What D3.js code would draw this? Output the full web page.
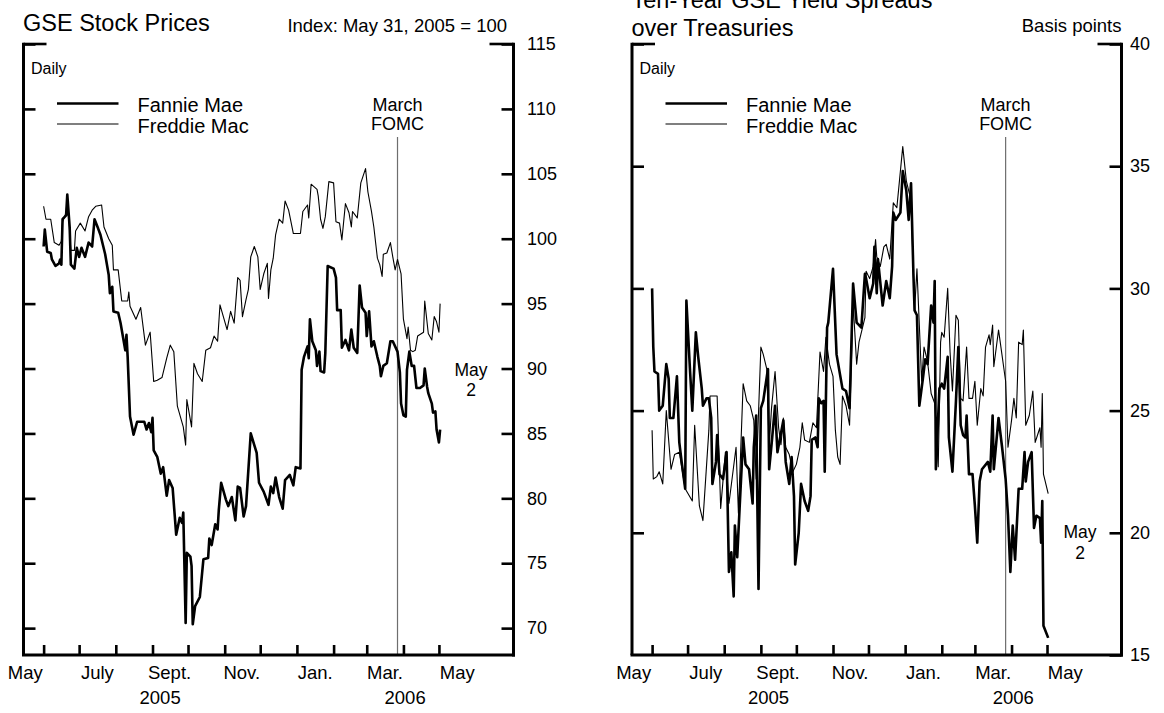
<!DOCTYPE html>
<html><head><meta charset="utf-8">
<script src="https://cdn.jsdelivr.net/npm/d3@7"></script>
<style>
body{margin:0;background:#fff;}
text{font-family:"Liberation Sans",Arial,Helvetica,sans-serif;fill:#000;}
</style>
</head><body>
<svg id="chart" width="1164" height="713"></svg>
<script>
// ---------------- DATA ----------------
const stockFannieDates = ["2005-06-01","2005-06-02","2005-06-04","2005-06-07","2005-06-08","2005-06-11","2005-06-14","2005-06-15","2005-06-16","2005-06-17","2005-06-20","2005-06-21","2005-06-23","2005-06-24","2005-06-27","2005-06-29","2005-07-01","2005-07-03","2005-07-06","2005-07-09","2005-07-12","2005-07-14","2005-07-17","2005-07-19","2005-07-23","2005-07-26","2005-07-27","2005-07-29","2005-07-30","2005-08-03","2005-08-05","2005-08-09","2005-08-10","2005-08-11","2005-08-13","2005-08-16","2005-08-19","2005-08-25","2005-08-27","2005-08-29","2005-08-31","2005-09-01","2005-09-02","2005-09-05","2005-09-08","2005-09-10","2005-09-13","2005-09-15","2005-09-18","2005-09-21","2005-09-24","2005-09-26","2005-09-27","2005-09-29","2005-09-30","2005-10-03","2005-10-04","2005-10-05","2005-10-07","2005-10-11","2005-10-14","2005-10-18","2005-10-19","2005-10-21","2005-10-24","2005-10-26","2005-10-27","2005-10-29","2005-11-02","2005-11-04","2005-11-07","2005-11-10","2005-11-12","2005-11-14","2005-11-17","2005-11-19","2005-11-23","2005-11-28","2005-11-30","2005-12-04","2005-12-08","2005-12-10","2005-12-12","2005-12-14","2005-12-17","2005-12-20","2005-12-22","2005-12-26","2005-12-29","2005-12-31","2006-01-04","2006-01-05","2006-01-07","2006-01-10","2006-01-11","2006-01-12","2006-01-14","2006-01-17","2006-01-18","2006-01-20","2006-01-21","2006-01-24","2006-01-25","2006-01-27","2006-02-01","2006-02-03","2006-02-04","2006-02-07","2006-02-08","2006-02-11","2006-02-14","2006-02-16","2006-02-18","2006-02-21","2006-02-23","2006-02-25","2006-02-28","2006-03-01","2006-03-03","2006-03-05","2006-03-07","2006-03-10","2006-03-12","2006-03-13","2006-03-15","2006-03-18","2006-03-21","2006-03-23","2006-03-27","2006-03-29","2006-03-30","2006-04-01","2006-04-03","2006-04-04","2006-04-06","2006-04-08","2006-04-10","2006-04-12","2006-04-15","2006-04-18","2006-04-19","2006-04-21","2006-04-22","2006-04-25","2006-04-26","2006-04-28","2006-04-29","2006-05-01","2006-05-02"];
const stockFannie = [99.4,100.7,99.0,98.9,98.4,97.9,98.1,98.4,98.0,101.5,101.8,103.4,100.9,98.0,97.7,99.3,98.6,99.3,98.6,99.7,99.4,101.5,100.8,100.3,98.8,97.2,95.8,96.3,94.4,94.3,93.5,91.4,92.6,90.9,86.3,84.9,85.9,85.9,85.3,85.8,85.1,86.2,83.7,83.2,81.9,82.4,80.2,81.4,80.8,77.2,78.5,78.1,78.9,70.4,75.8,75.5,74.8,70.3,71.7,72.4,75.3,75.4,76.9,76.4,78.0,77.6,79.1,81.2,79.9,79.4,80.1,78.3,80.9,80.8,78.6,79.4,85.0,83.5,81.2,80.5,79.5,80.9,80.4,81.6,80.1,79.2,81.4,81.8,81.0,82.4,82.3,89.9,90.9,91.7,90.8,93.8,92.1,91.4,90.2,91.3,89.8,89.7,91.2,97.9,97.7,97.0,94.5,94.5,91.6,92.2,91.4,93.0,91.6,91.2,96.4,94.7,94.3,92.5,94.4,91.7,92.1,90.9,90.2,89.4,90.2,90.4,92.1,92.1,91.3,89.7,87.3,86.4,86.3,89.9,91.3,90.2,90.2,88.5,88.5,88.7,90.0,88.6,88.1,87.3,86.6,86.7,85.3,84.3,85.3];

const stockFreddieDates = ["2005-06-01","2005-06-03","2005-06-07","2005-06-10","2005-06-14","2005-06-16","2005-06-17","2005-06-20","2005-06-21","2005-06-24","2005-06-27","2005-06-28","2005-07-02","2005-07-06","2005-07-09","2005-07-12","2005-07-15","2005-07-20","2005-07-22","2005-07-26","2005-07-29","2005-07-30","2005-08-03","2005-08-06","2005-08-11","2005-08-12","2005-08-13","2005-08-18","2005-08-22","2005-08-26","2005-08-30","2005-09-02","2005-09-05","2005-09-09","2005-09-13","2005-09-16","2005-09-19","2005-09-22","2005-09-27","2005-09-29","2005-09-30","2005-10-04","2005-10-06","2005-10-09","2005-10-13","2005-10-16","2005-10-20","2005-10-23","2005-10-26","2005-10-28","2005-11-03","2005-11-06","2005-11-09","2005-11-12","2005-11-14","2005-11-16","2005-11-19","2005-11-21","2005-11-23","2005-11-26","2005-11-29","2005-12-01","2005-12-04","2005-12-07","2005-12-08","2005-12-10","2005-12-12","2005-12-14","2005-12-17","2005-12-20","2005-12-22","2005-12-25","2005-12-29","2006-01-04","2006-01-06","2006-01-10","2006-01-11","2006-01-13","2006-01-18","2006-01-19","2006-01-21","2006-01-23","2006-01-25","2006-01-28","2006-02-01","2006-02-03","2006-02-06","2006-02-08","2006-02-11","2006-02-14","2006-02-16","2006-02-17","2006-02-21","2006-02-24","2006-02-28","2006-03-02","2006-03-05","2006-03-07","2006-03-10","2006-03-12","2006-03-14","2006-03-15","2006-03-18","2006-03-21","2006-03-23","2006-03-25","2006-03-27","2006-03-30","2006-04-01","2006-04-04","2006-04-05","2006-04-07","2006-04-09","2006-04-11","2006-04-13","2006-04-18","2006-04-19","2006-04-22","2006-04-25","2006-04-27","2006-04-29","2006-05-01","2006-05-02"];
const stockFreddie = [102.5,101.5,101.5,99.7,99.5,99.8,101.3,102.0,103.3,99.1,99.1,100.6,101.2,100.6,101.7,102.2,102.5,102.6,100.9,100.0,99.5,97.6,97.6,95.2,95.2,95.9,94.8,93.8,94.7,91.8,92.8,89.0,89.1,89.3,90.8,91.8,91.3,87.1,85.5,84.1,87.6,85.5,90.4,89.6,89.0,91.4,91.6,92.5,92.1,94.9,93.0,94.4,93.5,97.0,96.8,94.0,95.3,96.1,98.6,99.4,98.6,96.1,97.3,98.1,95.4,97.6,98.5,100.3,101.5,101.2,102.9,102.2,100.4,100.4,102.1,102.6,101.6,104.2,103.8,103.3,101.5,100.8,101.7,104.4,104.3,101.3,101.2,99.9,102.7,102.0,100.9,102.1,101.6,104.3,105.4,103.6,102.1,100.9,98.5,98.0,97.1,98.8,98.9,99.7,98.6,97.6,98.4,97.3,93.8,92.3,93.2,91.4,91.3,91.4,92.5,92.8,95.2,92.7,92.2,94.0,93.6,92.8,95.0];

const spreadFannieDates = ["2005-06-01","2005-06-02","2005-06-03","2005-06-06","2005-06-07","2005-06-10","2005-06-13","2005-06-15","2005-06-16","2005-06-19","2005-06-22","2005-06-24","2005-06-26","2005-06-29","2005-06-30","2005-07-03","2005-07-05","2005-07-08","2005-07-10","2005-07-13","2005-07-14","2005-07-17","2005-07-19","2005-07-21","2005-07-22","2005-07-25","2005-07-26","2005-07-28","2005-07-31","2005-08-03","2005-08-05","2005-08-07","2005-08-09","2005-08-10","2005-08-12","2005-08-14","2005-08-17","2005-08-19","2005-08-22","2005-08-25","2005-08-26","2005-08-28","2005-08-30","2005-09-01","2005-09-03","2005-09-07","2005-09-08","2005-09-10","2005-09-13","2005-09-15","2005-09-20","2005-09-22","2005-09-25","2005-09-27","2005-09-29","2005-09-30","2005-10-03","2005-10-05","2005-10-08","2005-10-11","2005-10-13","2005-10-14","2005-10-17","2005-10-19","2005-10-20","2005-10-22","2005-10-24","2005-10-25","2005-10-27","2005-10-28","2005-11-01","2005-11-04","2005-11-09","2005-11-12","2005-11-15","2005-11-18","2005-11-21","2005-11-25","2005-11-28","2005-11-29","2005-12-02","2005-12-05","2005-12-06","2005-12-08","2005-12-09","2005-12-13","2005-12-16","2005-12-19","2005-12-21","2005-12-22","2005-12-24","2005-12-28","2005-12-30","2006-01-02","2006-01-04","2006-01-06","2006-01-08","2006-01-09","2006-01-11","2006-01-13","2006-01-16","2006-01-18","2006-01-20","2006-01-23","2006-01-25","2006-01-26","2006-01-27","2006-01-30","2006-02-01","2006-02-03","2006-02-06","2006-02-07","2006-02-10","2006-02-13","2006-02-15","2006-02-17","2006-02-19","2006-02-21","2006-02-22","2006-02-24","2006-02-27","2006-03-01","2006-03-03","2006-03-05","2006-03-07","2006-03-12","2006-03-14","2006-03-16","2006-03-17","2006-03-21","2006-03-24","2006-03-27","2006-03-29","2006-03-31","2006-04-02","2006-04-04","2006-04-07","2006-04-10","2006-04-12","2006-04-13","2006-04-15","2006-04-18","2006-04-20","2006-04-22","2006-04-25","2006-04-26","2006-04-27","2006-04-28","2006-05-02"];
const spreadFannie = [30.0,27.6,26.6,26.5,25.0,25.2,26.9,26.3,24.7,24.7,26.4,23.7,22.9,21.8,29.5,26.7,25.0,28.2,27.2,25.9,25.2,25.5,25.5,24.7,22.0,22.9,24.0,22.4,22.2,23.3,18.4,19.2,17.4,20.3,19.0,21.0,23.9,22.8,22.6,21.2,23.5,24.8,17.7,25.1,25.4,26.7,22.6,23.6,25.2,23.3,24.6,22.9,22.0,23.1,21.5,18.7,20.0,22.0,21.3,20.9,21.5,23.8,23.9,23.5,25.5,25.3,25.4,22.5,28.4,28.6,30.8,27.3,25.9,25.8,25.1,30.2,28.6,28.4,30.6,30.4,29.6,30.2,31.7,29.8,31.2,29.3,30.3,29.6,30.9,33.1,32.8,33.1,34.8,34.0,32.8,34.3,30.6,29.1,28.9,25.2,26.3,27.1,26.9,29.3,28.6,30.3,22.6,25.9,26.1,25.9,27.2,23.9,22.5,25.4,27.6,24.4,24.0,23.9,24.8,22.4,22.4,21.1,19.6,22.1,22.6,22.9,22.5,24.8,22.6,24.7,23.5,22.2,20.7,18.4,20.3,18.9,21.8,21.8,23.3,22.1,22.9,23.3,20.2,20.7,20.6,19.6,21.3,16.2,15.7];

const spreadFreddieDates = ["2005-06-01","2005-06-02","2005-06-05","2005-06-07","2005-06-10","2005-06-13","2005-06-17","2005-06-20","2005-06-24","2005-06-29","2005-07-05","2005-07-07","2005-07-11","2005-07-14","2005-07-19","2005-07-20","2005-07-26","2005-07-29","2005-08-02","2005-08-05","2005-08-11","2005-08-13","2005-08-17","2005-08-20","2005-08-23","2005-08-26","2005-08-28","2005-09-01","2005-09-03","2005-09-06","2005-09-08","2005-09-10","2005-09-13","2005-09-16","2005-09-18","2005-09-20","2005-09-22","2005-09-25","2005-09-28","2005-10-01","2005-10-04","2005-10-06","2005-10-08","2005-10-12","2005-10-15","2005-10-18","2005-10-21","2005-10-24","2005-10-26","2005-10-29","2005-11-01","2005-11-03","2005-11-05","2005-11-07","2005-11-09","2005-11-12","2005-11-15","2005-11-18","2005-11-21","2005-11-23","2005-11-28","2005-11-29","2005-12-02","2005-12-05","2005-12-07","2005-12-08","2005-12-11","2005-12-14","2005-12-16","2005-12-19","2005-12-22","2005-12-25","2005-12-30","2006-01-02","2006-01-06","2006-01-09","2006-01-11","2006-01-13","2006-01-15","2006-01-17","2006-01-20","2006-01-23","2006-01-26","2006-01-29","2006-01-31","2006-02-01","2006-02-03","2006-02-06","2006-02-08","2006-02-10","2006-02-13","2006-02-15","2006-02-17","2006-02-19","2006-02-22","2006-02-24","2006-02-27","2006-03-01","2006-03-03","2006-03-06","2006-03-08","2006-03-10","2006-03-13","2006-03-14","2006-03-16","2006-03-17","2006-03-21","2006-03-27","2006-03-29","2006-04-01","2006-04-03","2006-04-05","2006-04-07","2006-04-10","2006-04-11","2006-04-13","2006-04-16","2006-04-19","2006-04-21","2006-04-23","2006-04-25","2006-04-26","2006-04-27","2006-04-28","2006-05-02"];
const spreadFreddie = [24.2,22.2,22.3,22.5,22.0,25.0,22.6,23.2,23.3,21.8,21.3,24.4,21.1,20.5,24.2,25.6,25.6,21.0,23.3,21.2,23.5,20.8,26.1,25.4,25.2,24.6,22.2,27.6,27.3,26.7,23.5,25.1,26.6,24.3,23.6,24.7,23.5,23.2,22.5,22.8,23.5,24.5,23.8,23.7,24.5,24.3,27.4,26.6,28.0,26.9,26.4,24.2,23.1,22.8,25.6,25.2,24.4,29.4,26.9,27.8,28.8,30.7,30.4,30.9,32.0,31.3,30.9,31.7,31.8,31.2,33.5,33.3,35.8,34.4,33.6,29.1,30.8,28.5,26.2,27.6,27.0,25.7,25.3,22.7,27.8,28.2,28.0,30.0,27.4,25.8,28.9,28.7,25.5,25.4,27.6,25.5,25.5,26.2,24.4,25.9,25.6,27.6,28.1,27.7,28.5,26.8,28.3,26.2,23.5,24.6,25.5,24.7,27.8,27.7,28.3,24.4,24.8,25.8,23.7,24.0,24.3,23.5,25.7,22.4,21.6];

const stockTicks = [115,110,105,100,95,90,85,80,75,70];
const spreadTicks = [40,35,30,25,20,15];
const monthLabels = ["May","July","Sept.","Nov.","Jan.","Mar.","May"];
const monthLabelDates = ["2005-05-16","2005-07-16","2005-09-15","2005-11-15","2006-01-16","2006-03-16","2006-05-16"];
const yearLabels = ["2005","2006"];
const yearLabelDates = ["2005-09-07","2006-04-02"];
const monthTickDates = ["2005-06-01","2005-07-01","2005-08-01","2005-09-01","2005-10-01","2005-11-01","2005-12-01","2006-01-01","2006-02-01","2006-03-01","2006-04-01","2006-05-01"];
const fomcDate = "2006-03-27";
const seriesNames = ["Fannie Mae","Freddie Mac"];

// ---------------- DRAW ----------------
const parse = d3.timeParse("%Y-%m-%d");
const svg = d3.select("#chart");
const yTop = 44, yBot = 655;
const xDomain = [parse("2005-05-15"), parse("2006-07-03")];
const FONT = '"Liberation Sans",Arial,sans-serif';

function zip(dates, vals){ return dates.map((d,i)=>({date:parse(d), v:vals[i]})); }

function drawPanel(cfg){
  const g = svg.append("g");
  const x = d3.scaleTime().domain(xDomain).range([cfg.x0, cfg.x1]);
  const y = d3.scaleLinear().domain(cfg.yDomain).range([yBot, yTop]);

  // FOMC line
  g.append("line").attr("x1", x(parse(fomcDate))).attr("x2", x(parse(fomcDate)))
    .attr("y1", 137).attr("y2", yBot).attr("stroke", "#6e6e6e").attr("stroke-width", 1.2);

  // data lines
  const line = d3.line().x(d=>x(d.date)).y(d=>y(d.v));
  g.append("path").datum(zip(cfg.freddieDates, cfg.freddie)).attr("d", line)
    .attr("fill","none").attr("stroke","#000").attr("stroke-width",1.1).attr("stroke-linejoin","round");
  g.append("path").datum(zip(cfg.fannieDates, cfg.fannie)).attr("d", line)
    .attr("fill","none").attr("stroke","#000").attr("stroke-width",2.6).attr("stroke-linejoin","round");

  // left inner ticks
  const la = g.append("g").attr("transform",`translate(${cfg.x0},0)`)
    .call(d3.axisRight(y).tickValues(cfg.innerTicks).tickSize(12).tickFormat(""));
  la.select(".domain").remove();
  la.selectAll("line").attr("stroke","#000").attr("stroke-width",2.6);

  // right axis with labels outside
  const ra = g.append("g").attr("transform",`translate(${cfg.x1},0)`)
    .call(d3.axisRight(y).tickValues(cfg.ticks).tickSizeInner(-12).tickSizeOuter(0).tickPadding(cfg.labelPad));
  ra.select(".domain").remove();
  ra.selectAll("line").attr("stroke","#000").attr("stroke-width",2.6);
  ra.selectAll("text").attr("font-size",18).attr("font-family",FONT).attr("fill","#000");

  // frame lines
  g.append("line").attr("x1",cfg.x0).attr("x2",cfg.x0).attr("y1",yTop-1.3).attr("y2",yBot)
    .attr("stroke","#000").attr("stroke-width",3);
  g.append("line").attr("x1",cfg.x1).attr("x2",cfg.x1).attr("y1",yTop-1.3).attr("y2",yBot+1.5)
    .attr("stroke","#000").attr("stroke-width",3);
  g.append("line").attr("x1",cfg.x0-1.5).attr("x2",cfg.x1+1.5).attr("y1",yBot).attr("y2",yBot)
    .attr("stroke","#000").attr("stroke-width",3);
  // top brackets
  g.append("line").attr("x1",cfg.x0).attr("x2",cfg.x0+23).attr("y1",yTop).attr("y2",yTop)
    .attr("stroke","#000").attr("stroke-width",2.6);
  g.append("line").attr("x1",cfg.x1-24).attr("x2",cfg.x1).attr("y1",yTop).attr("y2",yTop)
    .attr("stroke","#000").attr("stroke-width",2.6);

  // bottom month ticks
  const ba = g.append("g").attr("transform",`translate(0,${yBot})`)
    .call(d3.axisBottom(x).tickValues(monthTickDates.map(parse)).tickSize(-10).tickFormat(""));
  ba.select(".domain").remove();
  ba.selectAll("line").attr("stroke","#000").attr("stroke-width",2.6);

  // month labels
  const ml = g.append("g").attr("transform",`translate(0,${yBot})`)
    .call(d3.axisBottom(x).tickValues(monthLabelDates.map(parse)).tickSize(0).tickFormat((d,i)=>monthLabels[i]));
  ml.select(".domain").remove();
  ml.selectAll("text").attr("y",24).attr("dy",0).attr("font-size",18.5)
    .attr("font-family",FONT).attr("fill","#000");
  // year labels
  const yl = g.append("g").attr("transform",`translate(0,${yBot})`)
    .call(d3.axisBottom(x).tickValues(yearLabelDates.map(parse)).tickSize(0).tickFormat((d,i)=>yearLabels[i]));
  yl.select(".domain").remove();
  yl.selectAll("text").attr("y",49).attr("dy",0).attr("font-size",18.5)
    .attr("font-family",FONT).attr("fill","#000");

  // texts
  const lx = cfg.x0;
  cfg.titleLines.forEach((t,i)=>{
    g.append("text").attr("x",lx-0.5).attr("y",cfg.titleY+i*27.5).attr("font-size",23.5).text(t);
  });
  g.append("text").attr("x",cfg.unitX).attr("y",31.5).attr("text-anchor","end").attr("font-size",18.5).text(cfg.unit);
  g.append("text").attr("x",lx+7.5).attr("y",74).attr("font-size",16).text("Daily");

  // legend
  g.append("line").attr("x1",lx+33.5).attr("x2",lx+95).attr("y1",103.5).attr("y2",103.5)
    .attr("stroke","#000").attr("stroke-width",2.6);
  g.append("line").attr("x1",lx+33.5).attr("x2",lx+95).attr("y1",124).attr("y2",124)
    .attr("stroke","#000").attr("stroke-width",1.1);
  g.append("text").attr("x",lx+114).attr("y",112).attr("font-size",20).text(seriesNames[0]);
  g.append("text").attr("x",lx+114).attr("y",132.5).attr("font-size",20).text(seriesNames[1]);

  // FOMC label
  const fx = x(parse(fomcDate));
  g.append("text").attr("x",fx).attr("y",111).attr("text-anchor","middle").attr("font-size",18).text("March");
  g.append("text").attr("x",fx).attr("y",130).attr("text-anchor","middle").attr("font-size",18).text("FOMC");

  // May 2 annotation
  g.append("text").attr("x",cfg.mayX).attr("y",cfg.mayY).attr("text-anchor","middle").attr("font-size",17.5).text("May");
  g.append("text").attr("x",cfg.mayX).attr("y",cfg.mayY+20.5).attr("text-anchor","middle").attr("font-size",17.5).text("2");
}

drawPanel({
  x0:23.5, x1:513.5, yDomain:[67.93,115],
  ticks:stockTicks, innerTicks:stockTicks, labelPad:13.5,
  fannieDates:stockFannieDates, fannie:stockFannie,
  freddieDates:stockFreddieDates, freddie:stockFreddie,
  titleLines:["GSE Stock Prices"], titleY:30.5,
  unit:"Index: May 31, 2005 = 100", unitX:507,
  mayX:471, mayY:375.5
});
drawPanel({
  x0:632, x1:1121.5, yDomain:[15,40],
  ticks:spreadTicks, innerTicks:spreadTicks.slice(0,5), labelPad:8.5,
  fannieDates:spreadFannieDates, fannie:spreadFannie,
  freddieDates:spreadFreddieDates, freddie:spreadFreddie,
  titleLines:["Ten-Year GSE Yield Spreads","over Treasuries"], titleY:8,
  unit:"Basis points", unitX:1121.5,
  mayX:1080, mayY:538
});
</script>
</body></html>
